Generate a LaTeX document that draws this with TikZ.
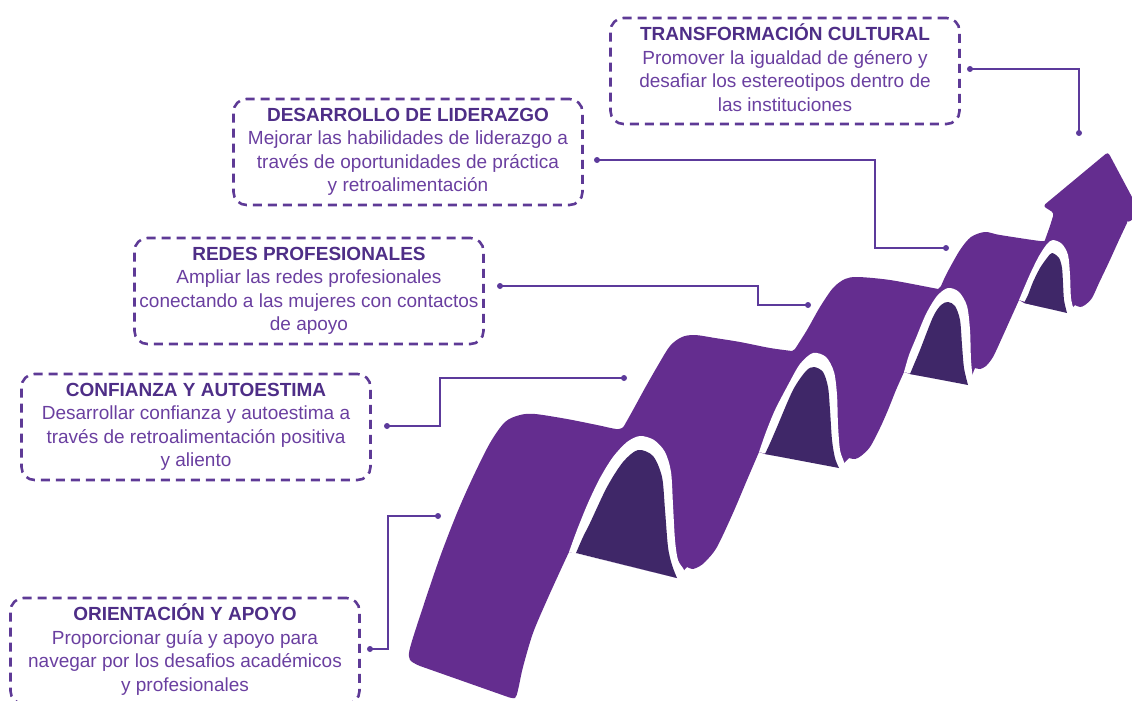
\documentclass[tikz,border=0pt]{standalone}
\usepackage{fontspec}
\setmainfont{Liberation Sans}
\usetikzlibrary{calc}

\definecolor{ribbon}{RGB}{100,45,143}
\definecolor{ribbondark}{RGB}{63,39,104}
\definecolor{titlecol}{RGB}{78,46,135}
\definecolor{bodycol}{RGB}{106,63,160}
\definecolor{framecol}{RGB}{94,58,150}
\definecolor{linkcol}{RGB}{92,58,155}

\tikzset{
  infobox/.style={draw=framecol, line width=2.6pt, dash pattern=on 9pt off 6pt,
    rounded corners=13pt, minimum width=349pt, minimum height=106pt,
    inner sep=0pt, align=center, text=bodycol,
    font=\fontsize{19}{23.4}\selectfont},
  link/.style={draw=linkcol, line width=1.6pt},
  rim/.style={fill=white},
  fold/.style={fill=ribbondark},
}
\newcommand{\boxhead}[1]{\textcolor{titlecol}{\bfseries #1}\strut}

\begin{document}
\begin{tikzpicture}[x=1pt,y=-1pt]
\useasboundingbox (0,0) rectangle (1132,701);

\begin{scope}
\clip (0,0) rectangle (1132,701);
% front faces of the wave and the arrow
\fill[ribbon]
  plot[smooth] coordinates {(420,666) (410,660) (410,648) (423,607) (440,557) (457,513) (473,477) (490,443) (505,422) (520,415) (535,414) (567,419) (597,425) (616,429) (622,428)}
  -- plot[smooth] coordinates {(624,426) (633,410) (645,388) (657,367) (670,346) (682,337) (695,335) (715,338) (740,342) (770,348) (792,351)}
  -- plot[smooth] coordinates {(795,349) (807,330) (820,307) (833,288) (845,279) (858,277) (890,280) (933,288) (938,289)}
  -- plot[smooth] coordinates {(941,286) (947,273) (960,250) (971,237) (985,232) (1000,235) (1040,241) (1045,240)}
  [rounded corners=3] -- (1050,226) -- (1054,213) -- (1043,206) -- (1108,152) -- (1141,214) -- (1127,223) [sharp corners]
  -- plot[smooth] coordinates {(1127,223) (1119,240) (1109,262) (1099,283) (1092,298) (1085,305) (1080,307) (1075,305)}
  -- (1067,313) -- (1024,303) -- (1019,300)
  -- plot[smooth] coordinates {(1019,300) (1010,320) (1001,340) (993,357) (986,366) (980,369) (975,368)}
  -- (968,385) -- (910,374) -- (904,372)
  -- plot[smooth] coordinates {(904,372) (896,390) (888,410) (880,428) (870,447) (861,456) (855,459) (849,458)}
  -- (839,468) -- (765,454) -- (759,452)
  -- plot[smooth] coordinates {(759,452) (747,480) (733,513) (717,547) (706,561) (700,566) (693,569) (687,567)}
  -- (677,578) -- (575,553) -- (569,552)
  -- plot[smooth] coordinates {(569,552) (562,567) (547,600) (533,633) (523,667) (518,690) (515,698) (508,697)}
  -- cycle;

% first fold: white rim, then the dark underside
\fill[rim] plot[smooth] coordinates {(569,552) (577,530) (588,503) (600,478) (613,457) (627,442) (640,436) (654,440) (665,452) (671,472) (673,505) (675,540) (678,560) (684,570) (686,580)} -- cycle;
\fill[fold] plot[smooth] coordinates {(576,553) (583,537) (590,523) (607,487) (623,462) (638,450) (653,456) (662,477) (665,510) (668,547) (672,565) (677,578)} -- cycle;

% second fold
\fill[rim] plot[smooth] coordinates {(759,452) (766,432) (775,410) (788,385) (800,364) (813,353) (826,357) (834,372) (837,395) (838,425) (840,450) (844,462) (848,475)} -- cycle;
\fill[fold] plot[smooth] coordinates {(765,454) (771,441) (777,427) (793,390) (806,371) (814,367) (823,372) (828,387) (830,410) (832,440) (835,458) (839,468)} -- cycle;

% third fold
\fill[rim] plot[smooth] coordinates {(904,372) (909,355) (916,338) (926,314) (937,296) (948,288) (959,292) (967,306) (970,330) (971,360) (973,378) (977,390)} -- cycle;
\fill[fold] plot[smooth] coordinates {(910,374) (915,362) (920,350) (933,317) (941,305) (948,302) (955,306) (960,320) (962,345) (964,368) (968,385)} -- cycle;

% fourth fold
\fill[rim] plot[smooth] coordinates {(1019,300) (1024,288) (1031,272) (1039,256) (1047,244) (1053,240) (1062,244) (1068,255) (1070,275) (1071,298) (1074,310) (1078,318)} -- cycle;
\fill[fold] plot[smooth] coordinates {(1024,303) (1028,295) (1033,282) (1040,268) (1047,258) (1052,253) (1059,258) (1062,268) (1063,283) (1064,300) (1067,313)} -- cycle;
\end{scope}

% text boxes
\node[infobox] (tcbox) at (785,71) {\boxhead{TRANSFORMACIÓN CULTURAL}\\
  Promover la igualdad de género y\strut\\
  desafiar los estereotipos dentro de\strut\\
  las instituciones\strut};
\node[infobox] (dlbox) at (408,152) {\boxhead{DESARROLLO DE LIDERAZGO}\\
  Mejorar las habilidades de liderazgo a\strut\\
  través de oportunidades de práctica\strut\\
  y retroalimentación\strut};
\node[infobox] (rpbox) at (309,291) {\boxhead{REDES PROFESIONALES}\\
  Ampliar las redes profesionales\strut\\
  conectando a las mujeres con contactos\strut\\
  de apoyo\strut};
\node[infobox] (cabox) at (196,427) {\boxhead{CONFIANZA Y AUTOESTIMA}\\
  Desarrollar confianza y autoestima a\strut\\
  través de retroalimentación positiva\strut\\
  y aliento\strut};
\node[infobox] (oabox) at (185,651) {\boxhead{ORIENTACIÓN Y APOYO}\\
  Proporcionar guía y apoyo para\strut\\
  navegar por los desafios académicos\strut\\
  y profesionales\strut};

% leader lines
\coordinate (tcA) at (970,69);  \coordinate (tcB) at (1079,133);
\coordinate (dlA) at (597,160); \coordinate (dlB) at (946,248);
\coordinate (rpA) at (500,286); \coordinate (rpB) at (808,305);
\coordinate (caA) at (387,426); \coordinate (caB) at (624,378);
\coordinate (oaA) at (370,649); \coordinate (oaB) at (438,516);
\draw[link] (tcA) -| (tcB);
\draw[link] (dlA) -- ++(278,0) |- (dlB);
\draw[link] (rpA) -- ++(258,0) |- (rpB);
\draw[link] (caA) -- ++(53,0) |- (caB);
\draw[link] (oaA) -- ++(18,0) |- (oaB);
\foreach \p in {tcA,tcB,dlA,dlB,rpA,rpB,caA,caB,oaA,oaB}
  \fill[linkcol] (\p) circle (3);
\end{tikzpicture}
\end{document}
